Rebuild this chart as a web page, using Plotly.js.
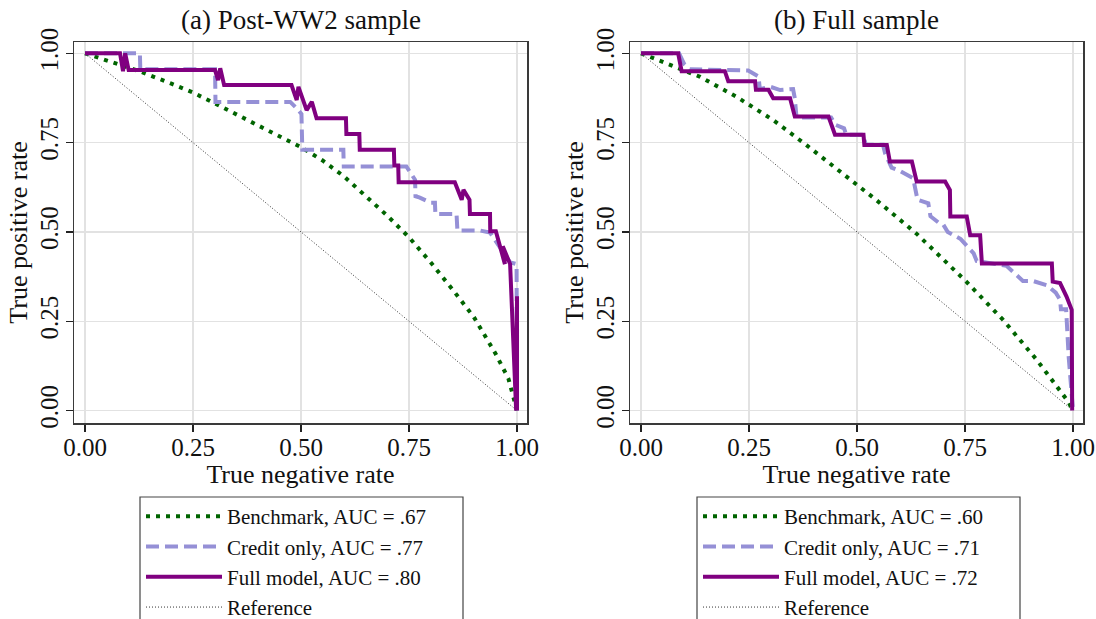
<!DOCTYPE html>
<html>
<head>
<meta charset="utf-8">
<script src="https://cdn.plot.ly/plotly-3.0.1.min.js"></script>
<style>html,body{margin:0;padding:0;background:#fff;}#chart{width:1096px;height:619px;}</style>
</head>
<body>
<div id="chart"></div>
<script>
// ---------- Data ----------
const tickVals = [0, 0.25, 0.5, 0.75, 1];
const tickText = ["0.00", "0.25", "0.50", "0.75", "1.00"];
const panelTitles = ["(a) Post-WW2 sample", "(b) Full sample"];
const seriesNames = {
  bench: "Benchmark", credit: "Credit only", full: "Full model", ref: "Reference"
};
const aucA = { bench: ".67", credit: ".77", full: ".80" };
const aucB = { bench: ".60", credit: ".71", full: ".72" };

// Panel (a) Post-WW2 sample
const benchA_x = [0, 0.06, 0.13, 0.2, 0.25, 0.3, 0.35, 0.4, 0.45, 0.5, 0.55, 0.6, 0.65, 0.7, 0.75, 0.8, 0.85, 0.9, 0.95, 0.98, 1.0];
const benchA_y = [1, 0.975, 0.948, 0.915, 0.89, 0.86, 0.83, 0.798, 0.768, 0.737, 0.7, 0.655, 0.6, 0.545, 0.485, 0.415, 0.34, 0.262, 0.16, 0.09, 0.0];

const creditA_x = [0, 0.127, 0.128, 0.301, 0.302, 0.475, 0.49, 0.501, 0.503, 0.598, 0.599, 0.744, 0.764, 0.765, 0.775, 0.8, 0.81, 0.811, 0.86, 0.862, 0.914, 0.9375, 0.968, 0.984, 0.999, 1.0];
const creditA_y = [1, 1, 0.955, 0.955, 0.864, 0.864, 0.846, 0.83, 0.73, 0.73, 0.683, 0.683, 0.646, 0.6, 0.596, 0.582, 0.582, 0.55, 0.55, 0.504, 0.504, 0.498, 0.443, 0.415, 0.41, 0.0];

const fullA_x = [0, 0.081, 0.088, 0.093, 0.101, 0.301, 0.308, 0.313, 0.322, 0.478, 0.49, 0.494, 0.513, 0.525, 0.536, 0.604, 0.605, 0.635, 0.636, 0.715, 0.716, 0.725, 0.726, 0.856, 0.872, 0.876, 0.89, 0.891, 0.9375, 0.938, 0.951, 0.972, 0.967, 0.984, 0.998, 1.0, 1.0];
const fullA_y = [1, 1, 0.95, 1, 0.953, 0.953, 0.925, 0.958, 0.911, 0.911, 0.869, 0.906, 0.841, 0.864, 0.818, 0.818, 0.774, 0.774, 0.73, 0.73, 0.686, 0.686, 0.639, 0.639, 0.59, 0.618, 0.59, 0.55, 0.55, 0.502, 0.502, 0.41, 0.46, 0.41, 0.0, 0.32, 0.0];

// Panel (b) Full sample
const benchB_x = [0, 0.052, 0.137, 0.22, 0.306, 0.383, 0.507, 0.545, 0.637, 0.753, 0.838, 0.916, 0.989, 1.0];
const benchB_y = [1, 0.976, 0.934, 0.879, 0.813, 0.743, 0.627, 0.589, 0.496, 0.361, 0.254, 0.142, 0.025, 0.0];

const creditB_x = [0, 0.088, 0.1, 0.113, 0.248, 0.272, 0.275, 0.3, 0.322, 0.352, 0.356, 0.36, 0.44, 0.45, 0.47, 0.475, 0.515, 0.52, 0.56, 0.565, 0.58, 0.6, 0.63, 0.635, 0.64, 0.665, 0.67, 0.69, 0.7, 0.71, 0.74, 0.77, 0.777, 0.846, 0.884, 0.907, 0.939, 0.96, 0.97, 0.972, 0.984, 0.99, 1.0];
const creditB_y = [1, 1, 0.97, 0.955, 0.952, 0.935, 0.9, 0.906, 0.897, 0.9, 0.874, 0.82, 0.82, 0.8, 0.79, 0.772, 0.772, 0.744, 0.744, 0.72, 0.68, 0.67, 0.65, 0.62, 0.59, 0.58, 0.544, 0.525, 0.52, 0.5, 0.48, 0.44, 0.419, 0.405, 0.363, 0.363, 0.351, 0.33, 0.31, 0.284, 0.284, 0.15, 0.0];

const fullB_x = [0, 0.086, 0.094, 0.194, 0.202, 0.264, 0.266, 0.295, 0.306, 0.345, 0.356, 0.434, 0.449, 0.515, 0.517, 0.569, 0.576, 0.627, 0.638, 0.704, 0.715, 0.716, 0.754, 0.762, 0.785, 0.789, 0.951, 0.953, 0.97, 0.985, 0.997, 0.998];
const fullB_y = [1, 1, 0.95, 0.95, 0.922, 0.922, 0.898, 0.898, 0.874, 0.874, 0.823, 0.823, 0.772, 0.772, 0.743, 0.743, 0.697, 0.697, 0.641, 0.641, 0.617, 0.543, 0.543, 0.491, 0.491, 0.412, 0.412, 0.361, 0.357, 0.319, 0.282, 0.0];

const refLine_x = [0, 1];
const refLine_y = [1, 0];

// ---------- Styling ----------
const FONT = "Liberation Serif, Times New Roman, serif";
const C_GREEN = "#006400", C_LAV = "#9590d6", C_PURP = "#800080";

function panelTraces(xa, ya, leg, d, auc) {
  return [
    { x: refLine_x, y: refLine_y, xaxis: xa, yaxis: ya, legend: leg, mode: "lines",
      name: seriesNames.ref, legendrank: 4,
      line: { color: "#333", width: 1, dash: "1px,2px" } },
    { x: d.bx, y: d.by, xaxis: xa, yaxis: ya, legend: leg, mode: "lines",
      name: seriesNames.bench + ", AUC = " + auc.bench, legendrank: 1,
      line: { color: C_GREEN, width: 4, dash: "4px,6px" } },
    { x: d.cx, y: d.cy, xaxis: xa, yaxis: ya, legend: leg, mode: "lines",
      name: seriesNames.credit + ", AUC = " + auc.credit, legendrank: 2,
      line: { color: C_LAV, width: 4, dash: "13px,6px" } },
    { x: d.fx, y: d.fy, xaxis: xa, yaxis: ya, legend: leg, mode: "lines",
      name: seriesNames.full + ", AUC = " + auc.full, legendrank: 3,
      line: { color: C_PURP, width: 4 } }
  ];
}

const data = [].concat(
  panelTraces("x", "y", "legend",
    { bx: benchA_x, by: benchA_y, cx: creditA_x, cy: creditA_y, fx: fullA_x, fy: fullA_y }, aucA),
  panelTraces("x2", "y2", "legend2",
    { bx: benchB_x, by: benchB_y, cx: creditB_x, cy: creditB_y, fx: fullB_x, fy: fullB_y }, aucB)
);

const W = 1096, H = 619;
function xAxis(dom, anchor) {
  return {
    domain: dom, anchor: anchor, range: [-0.0255, 1.0231],
    tickvals: tickVals, ticktext: tickText, ticks: "outside", ticklen: 7, tickwidth: 1.2, tickcolor: "#222",
    ticklabelstandoff: -6,
    showgrid: true, gridcolor: "#e2e2e2", gridwidth: 1.5, zeroline: false,
    showline: true, mirror: true, linecolor: "#3a3a3a", linewidth: 1.5,
    tickfont: { family: FONT, size: 25, color: "#111" },
    title: { text: "True negative rate", font: { family: FONT, size: 26, color: "#111" }, standoff: 2 }
  };
}
function yAxis(anchor) {
  return {
    domain: [1 - 423 / H, 1 - 42 / H], anchor: anchor, range: [-0.0347, 1.0316],
    tickvals: tickVals, ticktext: tickText, ticks: "outside", ticklen: 7, tickwidth: 1.2, tickcolor: "#222",
    tickangle: -90, ticklabelstandoff: -2,
    showgrid: true, gridcolor: "#e2e2e2", gridwidth: 1.5, zeroline: false,
    showline: true, mirror: true, linecolor: "#3a3a3a", linewidth: 1.5,
    tickfont: { family: FONT, size: 25, color: "#111" },
    title: { text: "True positive rate", font: { family: FONT, size: 26, color: "#111" }, standoff: 0 }
  };
}
function legendBox(x0px) {
  return {
    x: (x0px + 1) / W, y: 1 - 496 / H, xanchor: "left", yanchor: "top",
    bgcolor: "rgba(0,0,0,0)", borderwidth: 0, itemwidth: 76, tracegroupgap: 0,
    font: { family: FONT, size: 21, color: "#111" }
  };
}

const layout = {
  width: W, height: H,
  margin: { l: 0, r: 0, t: 0, b: 0, autoexpand: false },
  paper_bgcolor: "#fff", plot_bgcolor: "#fff",
  showlegend: true,
  xaxis: xAxis([74 / W, 527 / W], "y"),
  yaxis: yAxis("x"),
  xaxis2: xAxis([630 / W, 1083 / W], "y2"),
  yaxis2: yAxis("x2"),
  legend: legendBox(140),
  legend2: legendBox(697),
  shapes: [
    { type: "rect", xref: "paper", yref: "paper", x0: 140 / W, x1: 463 / W, y0: -0.05, y1: 1 - 497 / H,
      line: { color: "#444", width: 1.2 }, fillcolor: "rgba(0,0,0,0)" },
    { type: "rect", xref: "paper", yref: "paper", x0: 697 / W, x1: 1020 / W, y0: -0.05, y1: 1 - 497 / H,
      line: { color: "#444", width: 1.2 }, fillcolor: "rgba(0,0,0,0)" }
  ],
  annotations: [
    { text: panelTitles[0], xref: "paper", yref: "paper", x: 300.5 / W, y: 1 - 20 / H,
      xanchor: "center", yanchor: "middle", showarrow: false, font: { family: FONT, size: 27, color: "#111" } },
    { text: panelTitles[1], xref: "paper", yref: "paper", x: 856.5 / W, y: 1 - 20 / H,
      xanchor: "center", yanchor: "middle", showarrow: false, font: { family: FONT, size: 27, color: "#111" } }
  ]
};

Plotly.newPlot("chart", data, layout, { displayModeBar: false, staticPlot: true });
</script>
</body>
</html>
